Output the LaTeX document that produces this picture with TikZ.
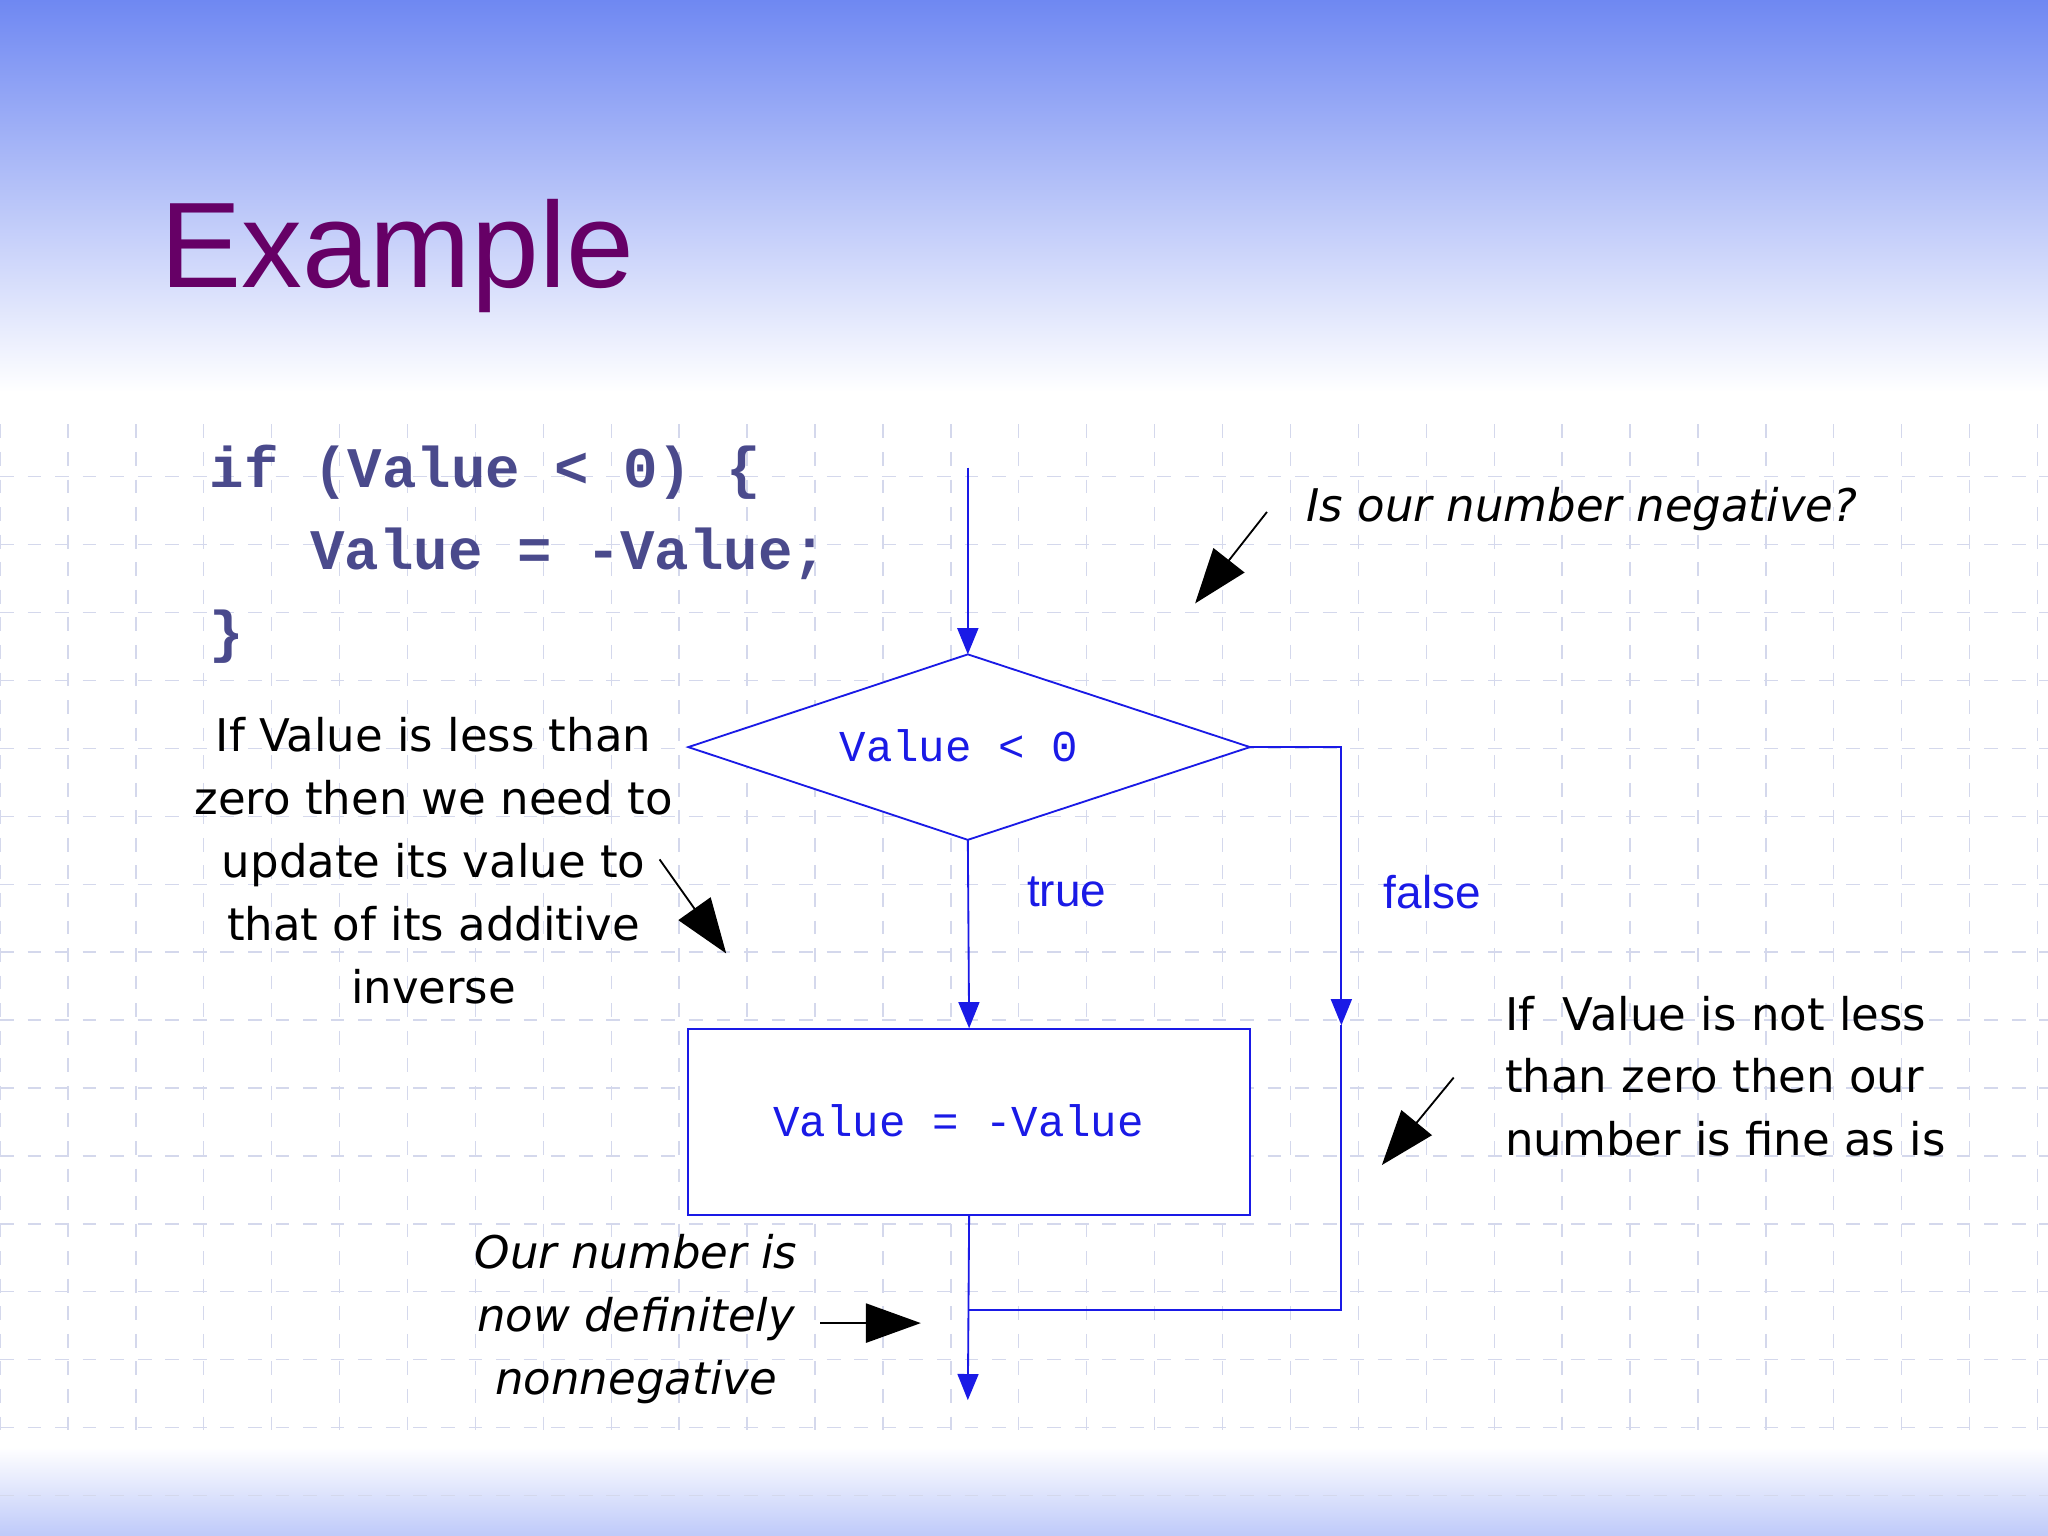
\documentclass[tikz,border=0pt]{standalone}
\usepackage{fontspec}
\setmainfont{Liberation Sans}
\setmonofont{Liberation Mono}
\newfontfamily\annfont{DejaVu Sans}
\usetikzlibrary{arrows.meta,shapes.geometric}
\definecolor{topblue}{HTML}{6F88F2}
\definecolor{titlepurple}{HTML}{660066}
\definecolor{codecol}{HTML}{4A4A8C}
\definecolor{flowblue}{HTML}{1A1AE6}
\definecolor{gridcol}{HTML}{D4D8EC}
\tikzset{
  flow/.style={draw=flowblue, line width=0.4pt},
  flowarr/.style={flow, -{Triangle[length=0.2cm,width=0.16cm]}, flowblue},
  callout/.style={draw=black, line width=0.4pt, -{Triangle[length=0.42cm,width=0.3cm]}},
  ann/.style={font=\annfont\fontsize{9.8pt}{13.7pt}\selectfont, text=black, align=center},
  anni/.style={font=\annfont\itshape\fontsize{9.8pt}{13.7pt}\selectfont, text=black, align=center},
  code/.style={font=\ttfamily\bfseries\fontsize{12.5pt}{14pt}\selectfont, text=codecol, anchor=base west},
  flowtxt/.style={font=\ttfamily\fontsize{9.6pt}{11pt}\selectfont, text=flowblue},
  lbl/.style={font=\fontsize{10pt}{12pt}\selectfont, text=flowblue}
}
\begin{document}
\begin{tikzpicture}[x=0.01cm,y=-0.01cm]
\useasboundingbox (0,0) rectangle (1568,1176);
\fill[white] (0,0) rectangle (1568,1176);
\shade[top color=topblue, bottom color=white] (0,0) rectangle (1568,300);
\shade[top color=white, bottom color=topblue!45] (0,1108) rectangle (1568,1176);
% grid
\foreach \i in {0,...,30} {\draw[gridcol, dashed, line width=0.3pt] (52*\i,325) -- (52*\i,1105);}
\foreach \j in {0,...,15} {\draw[gridcol, dashed, line width=0.3pt] (0,365+52*\j) -- (1568,365+52*\j);}
% title
\node[anchor=base west, inner sep=0, text=titlepurple, font=\fontsize{26.5pt}{32pt}\selectfont] (title) at (122,220) {Example};
% code
\node[code, inner sep=0] (c1) at (160,373) {if (Value < 0) \{};
\node[code, inner sep=0] (c2) at (237,436) {Value = -Value;};
\node[code, inner sep=0] (c3) at (160,499) {\}};
% flow
\coordinate (start) at (741,358);
\coordinate (dl) at (527,572);
\coordinate (dt) at (741,501);
\coordinate (dr) at (957,572);
\coordinate (db) at (741,643);
\draw[flow, fill=white] (dl) -- (dt) -- (dr) -- (db) -- cycle;
\node[flowtxt] (dtext) at (734,571) {Value < 0};
\node[flow, fill=white, minimum width=4.3cm, minimum height=1.42cm, inner sep=0] (box) at (742,859) {};
\node[flowtxt] (btext) at (734,858) {Value = -Value};
\draw[flowarr] (start) -- (dt);
\draw[flowarr] (db) -- (box.north);
\coordinate (fr) at (1027,572);
\coordinate (fa) at (1027,785);
\coordinate (fm) at (1027,1003);
\coordinate (jm) at (741,1003);
\coordinate (endp) at (741,1072);
\draw[flowarr] (dr) -- (fr) -- (fa);
\draw[flow] (fa) -- (fm) -- (jm);
\draw[flowarr] (box.south) -- (endp);
\node[lbl, anchor=west] (true) at (774,683) {true};
\node[lbl, anchor=west] (false) at (1047,683) {false};
% annotations
\node[anni, anchor=west] (q) at (988,390) {Is our number negative?};
\coordinate (qa) at (970,392); \coordinate (qb) at (915,462);
\draw[callout] (qa) -- (qb);
\node[ann] (lt) at (332,659) {If Value is less than\\zero then we need to\\update its value to\\that of its additive\\inverse};
\coordinate (la) at (505,658); \coordinate (lb) at (556,730);
\draw[callout] (la) -- (lb);
\begin{scope}
\clip (1100,740) rectangle (1493,900);
\node[ann, align=left, anchor=north west] (rt) at (1140,750) {If\ \ Value is not less\\than zero then our\\number is fine as is};
\end{scope}
\coordinate (ra) at (1113,825); \coordinate (rb) at (1058,892);
\draw[callout] (ra) -- (rb);
\node[anni] (bt) at (487,1010) {Our number is\\now definitely\\nonnegative};
\coordinate (ba) at (628,1013); \coordinate (bb) at (705,1013);
\draw[callout] (ba) -- (bb);
\end{tikzpicture}
\end{document}
